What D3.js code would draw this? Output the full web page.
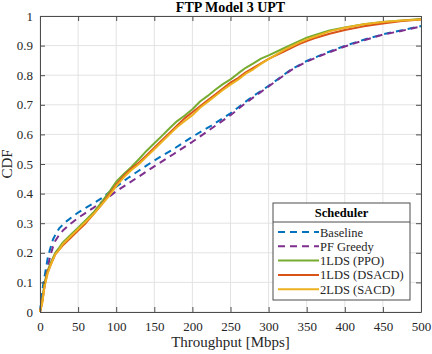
<!DOCTYPE html>
<html>
<head>
<meta charset="utf-8">
<script src="https://cdn.jsdelivr.net/npm/d3@7"></script>
<style>
  body { margin: 0; background: #fff; }
  text { font-family: "Liberation Serif", "DejaVu Serif", serif; }
</style>
</head>
<body>
<div class="chart"></div>
<script>
// Throughput points (Mbps) and CDF values
let xBaseline = [0, 2, 4, 6, 8, 10, 13, 17, 22, 26, 30, 35, 40, 50, 60, 70, 80, 90, 100, 115, 130, 150, 175, 200, 225, 250, 267, 280, 300, 330, 350, 375, 400, 425, 450, 475, 500]
let yBaseline = [0, 0.05, 0.09, 0.12, 0.15, 0.18, 0.21, 0.245, 0.27, 0.285, 0.295, 0.307, 0.317, 0.336, 0.352, 0.367, 0.383, 0.403, 0.423, 0.452, 0.478, 0.512, 0.55, 0.592, 0.63, 0.671, 0.705, 0.73, 0.764, 0.82, 0.848, 0.875, 0.899, 0.92, 0.938, 0.952, 0.966]

let xPF = [0, 2, 4, 6, 9, 13, 17, 20, 25, 30, 40, 50, 60, 70, 80, 90, 100, 115, 130, 150, 175, 200, 225, 250, 267, 280, 300, 330, 350, 375, 400, 425, 450, 475, 500]
let yPF = [0, 0.025, 0.055, 0.09, 0.135, 0.185, 0.22, 0.24, 0.26, 0.275, 0.298, 0.318, 0.335, 0.352, 0.37, 0.388, 0.408, 0.433, 0.458, 0.492, 0.533, 0.575, 0.62, 0.665, 0.7, 0.725, 0.762, 0.818, 0.846, 0.873, 0.897, 0.918, 0.937, 0.95, 0.965]

let xSolid = [0, 3, 6, 10, 15, 20, 25, 30, 40, 50, 60, 70, 80, 90, 100, 110, 120, 130, 140, 150, 160, 170, 180, 190, 200, 210, 220, 230, 240, 250, 260, 270, 280, 290, 300, 320, 340, 350, 360, 380, 400, 425, 450, 475, 500]
let yPPO = [0, 0.04, 0.1, 0.14, 0.172, 0.2, 0.217, 0.235, 0.26, 0.285, 0.31, 0.336, 0.368, 0.403, 0.44, 0.466, 0.49, 0.517, 0.545, 0.57, 0.595, 0.621, 0.645, 0.664, 0.685, 0.711, 0.73, 0.751, 0.77, 0.786, 0.806, 0.825, 0.84, 0.856, 0.867, 0.891, 0.915, 0.927, 0.935, 0.951, 0.961, 0.972, 0.98, 0.985, 0.99]
let yDSACD = [0, 0.035, 0.09, 0.135, 0.165, 0.195, 0.21, 0.225, 0.25, 0.275, 0.3, 0.33, 0.36, 0.395, 0.43, 0.46, 0.485, 0.505, 0.53, 0.555, 0.58, 0.605, 0.63, 0.655, 0.675, 0.695, 0.715, 0.735, 0.755, 0.775, 0.79, 0.81, 0.825, 0.84, 0.855, 0.88, 0.905, 0.915, 0.925, 0.94, 0.953, 0.965, 0.975, 0.983, 0.988]
let ySACD = [0, 0.03, 0.085, 0.13, 0.165, 0.195, 0.21, 0.23, 0.255, 0.28, 0.305, 0.33, 0.36, 0.39, 0.425, 0.455, 0.48, 0.5, 0.525, 0.55, 0.575, 0.6, 0.625, 0.645, 0.665, 0.69, 0.71, 0.73, 0.75, 0.768, 0.785, 0.805, 0.82, 0.838, 0.854, 0.885, 0.91, 0.921, 0.93, 0.948, 0.96, 0.972, 0.98, 0.985, 0.988]

let names = ["Baseline", "PF Greedy", "1LDS (PPO)", "1LDS (DSACD)", "2LDS (SACD)"]
let colors = ["#0072BD", "#7E2F8E", "#77AC30", "#D95319", "#EDB120"]
let xTicks = [0, 50, 100, 150, 200, 250, 300, 350, 400, 450, 500]
let yTicks = [0, 0.1, 0.2, 0.3, 0.4, 0.5, 0.6, 0.7, 0.8, 0.9, 1]

let series = [
  { name: names[0], xs: xBaseline, ys: yBaseline, color: colors[0], dash: "7,5" },
  { name: names[1], xs: xPF, ys: yPF, color: colors[1], dash: "7,5" },
  { name: names[2], xs: xSolid, ys: yPPO, color: colors[2], dash: null },
  { name: names[3], xs: xSolid, ys: yDSACD, color: colors[3], dash: null },
  { name: names[4], xs: xSolid, ys: ySACD, color: colors[4], dash: null }
]

let w = 432
let h = 354
let m = { left: 40, right: 11, top: 16, bottom: 42 }

let svg = d3.select(".chart")
            .append("svg")
            .attr("width", w)
            .attr("height", h)

let x = d3.scaleLinear().domain([0, 500]).range([m.left, w - m.right])
let y = d3.scaleLinear().domain([0, 1]).range([h - m.bottom, m.top])

// grid
svg.append("g").selectAll("line")
  .data(xTicks)
  .enter()
  .append("line")
  .attr("x1", d => x(d)).attr("x2", d => x(d))
  .attr("y1", y(0)).attr("y2", y(1))
  .attr("stroke", "#e3e3e3")
svg.append("g").selectAll("line")
  .data(yTicks)
  .enter()
  .append("line")
  .attr("x1", x(0)).attr("x2", x(500))
  .attr("y1", d => y(d)).attr("y2", d => y(d))
  .attr("stroke", "#e3e3e3")

// curves
let line = d3.line()
  .x(d => x(d[0]))
  .y(d => y(d[1]))

svg.append("g").selectAll("path")
  .data(series)
  .enter()
  .append("path")
  .attr("d", s => line(s.xs.map((v, i) => [v, s.ys[i]])))
  .attr("fill", "none")
  .attr("stroke", s => s.color)
  .attr("stroke-width", 2)
  .attr("stroke-dasharray", s => s.dash)
  .attr("stroke-linejoin", "round")

// axes with inward ticks, box all round
let axisColor = "#4d4d4d"
let fmtY = d => d === 0 || d === 1 ? String(d) : d3.format(".1f")(d)

let axB = svg.append("g")
  .attr("transform", "translate(0," + y(0) + ")")
  .call(d3.axisBottom(x).tickValues(xTicks).tickSizeInner(-5).tickSizeOuter(0).tickPadding(10))
let axL = svg.append("g")
  .attr("transform", "translate(" + x(0) + ",0)")
  .call(d3.axisLeft(y).tickValues(yTicks).tickFormat(fmtY).tickSizeInner(-5).tickSizeOuter(0).tickPadding(7))
let axT = svg.append("g")
  .attr("transform", "translate(0," + y(1) + ")")
  .call(d3.axisTop(x).tickValues(xTicks).tickSizeInner(-5).tickSizeOuter(0).tickFormat(""))
let axR = svg.append("g")
  .attr("transform", "translate(" + x(500) + ",0)")
  .call(d3.axisRight(y).tickValues(yTicks).tickSizeInner(-5).tickSizeOuter(0).tickFormat(""))

;[axB, axL, axT, axR].forEach(g => {
  g.attr("font-family", null)
  g.selectAll("path").attr("stroke", axisColor)
  g.selectAll("line").attr("stroke", axisColor)
  g.selectAll("text")
    .attr("fill", "#262626")
    .style("font-family", "'Liberation Serif', serif")
    .style("font-size", "13px")
})

// titles
svg.append("text")
  .attr("x", (x(0) + x(500)) / 2)
  .attr("y", 12)
  .attr("text-anchor", "middle")
  .attr("font-weight", "bold")
  .attr("font-size", "14px")
  .text("FTP Model 3 UPT")

svg.append("text")
  .attr("x", (x(0) + x(500)) / 2)
  .attr("y", 347)
  .attr("text-anchor", "middle")
  .attr("font-size", "15px")
  .attr("fill", "#262626")
  .text("Throughput [Mbps]")

svg.append("text")
  .attr("transform", "translate(12," + (y(0) + y(1)) / 2 + ") rotate(-90)")
  .attr("text-anchor", "middle")
  .attr("font-size", "15px")
  .attr("fill", "#262626")
  .text("CDF")

// legend
let lg = svg.append("g").attr("transform", "translate(273,203)")
lg.append("rect")
  .attr("width", 137).attr("height", 97)
  .attr("fill", "#fff")
  .attr("stroke", axisColor)
lg.append("line")
  .attr("x1", 0).attr("x2", 137)
  .attr("y1", 19).attr("y2", 19)
  .attr("stroke", axisColor)
lg.append("text")
  .attr("x", 68.5).attr("y", 14)
  .attr("text-anchor", "middle")
  .attr("font-weight", "bold")
  .attr("font-size", "12.5px")
  .text("Scheduler")

let items = lg.selectAll("g.item")
  .data(series)
  .enter()
  .append("g")
  .attr("transform", (d, i) => "translate(0," + (29 + i * 14.3) + ")")
items.append("line")
  .attr("x1", 5).attr("x2", 46)
  .attr("stroke", d => d.color)
  .attr("stroke-width", 2)
  .attr("stroke-dasharray", d => d.dash)
items.append("text")
  .attr("x", 47).attr("y", 4.5)
  .attr("font-size", "12.5px")
  .attr("fill", "#262626")
  .text(d => d.name)
</script>
</body>
</html>
